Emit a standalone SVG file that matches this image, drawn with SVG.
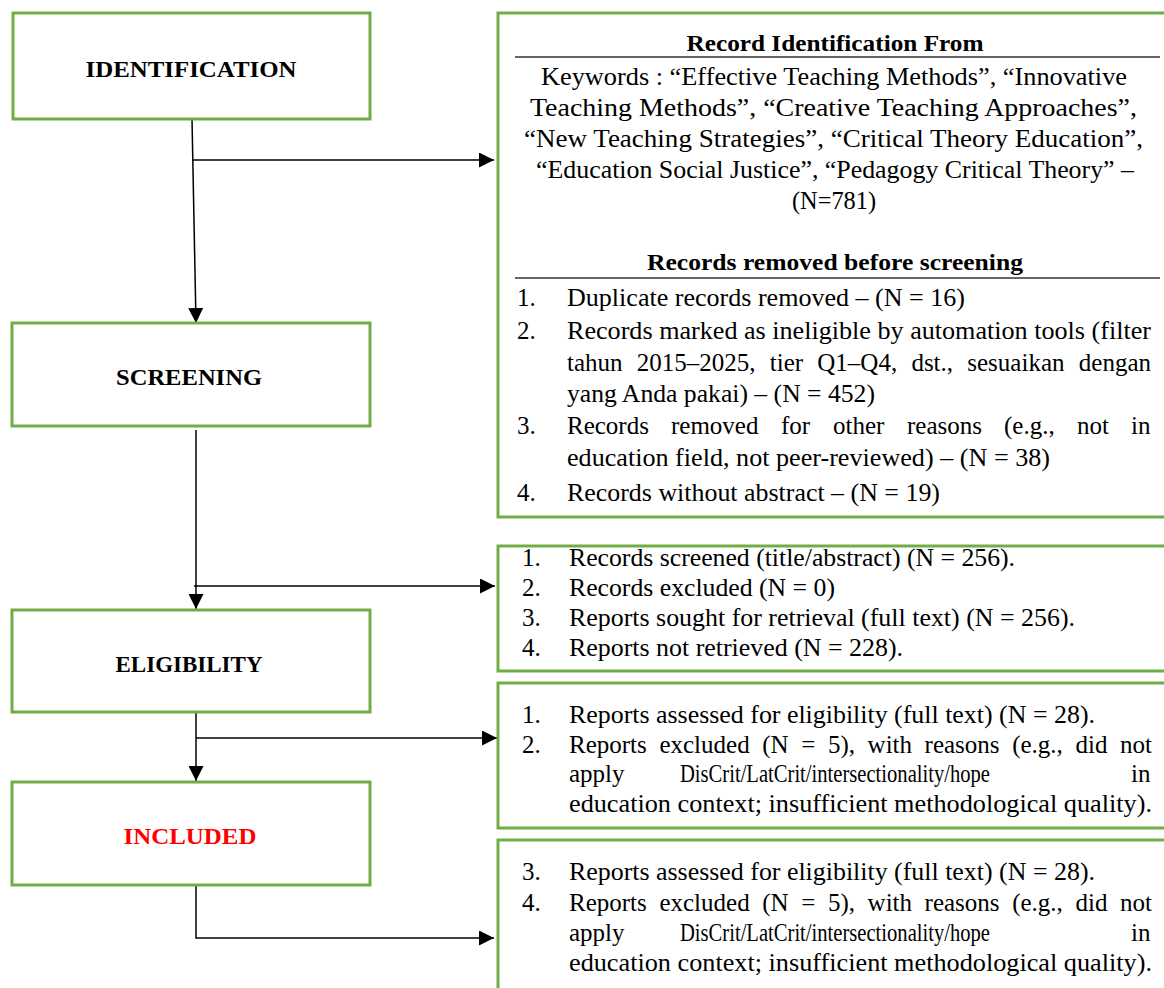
<svg xmlns="http://www.w3.org/2000/svg" width="1164" height="988" viewBox="0 0 1164 988">
<defs>
<style>
.box{fill:#fff;stroke:#70AD47;stroke-width:3}
.lbl{font-family:"Liberation Serif",serif;font-weight:bold;font-size:24px;fill:#000;text-anchor:middle}
.t{font-family:"Liberation Serif",serif;font-size:25px;fill:#000}
.h{font-family:"Liberation Serif",serif;font-weight:bold;font-size:23px;fill:#000;text-anchor:middle}
.c{font-family:"Liberation Serif",serif;font-size:25px;fill:#000;text-anchor:middle}
.conn{stroke:#000;stroke-width:1.5;fill:none}
.sep{stroke:#333;stroke-width:1.5}
</style>
<marker id="arrL" viewBox="0 0 10 10" refX="10" refY="5" markerWidth="15" markerHeight="15" markerUnits="userSpaceOnUse" orient="auto">
<path d="M0,0 L10,5 L0,10 z" fill="#000"/>
</marker>
</defs>
<rect width="1164" height="988" fill="#fff"/>

<g id="connectors">
<line class="conn" x1="192" y1="119" x2="196" y2="323" marker-end="url(#arrL)"/>
<line class="conn" x1="193" y1="160" x2="494" y2="160" marker-end="url(#arrL)"/>
<line class="conn" x1="196" y1="430" x2="196" y2="609" marker-end="url(#arrL)"/>
<line class="conn" x1="194" y1="586" x2="495" y2="586" marker-end="url(#arrL)"/>
<line class="conn" x1="196" y1="712" x2="196" y2="781" marker-end="url(#arrL)"/>
<line class="conn" x1="196" y1="738" x2="497" y2="738" marker-end="url(#arrL)"/>
<polyline class="conn" points="196,885 196,938 494,938" marker-end="url(#arrL)"/>
</g>

<g id="identification">
<rect class="box" x="13" y="13" width="357" height="106"/>
<text class="lbl" x="191" y="77" textLength="211" lengthAdjust="spacingAndGlyphs">IDENTIFICATION</text>
</g>
<g id="screening">
<rect class="box" x="12" y="323" width="358" height="103"/>
<text class="lbl" x="189" y="385" textLength="146" lengthAdjust="spacingAndGlyphs">SCREENING</text>
</g>
<g id="eligibility">
<rect class="box" x="12" y="610" width="358" height="102"/>
<text class="lbl" x="189" y="672" textLength="147" lengthAdjust="spacingAndGlyphs">ELIGIBILITY</text>
</g>
<g id="included">
<rect class="box" x="12" y="782" width="358" height="103"/>
<text class="lbl" x="190" y="844" style="fill:#f00" textLength="133" lengthAdjust="spacingAndGlyphs">INCLUDED</text>
</g>

<g id="record-identification">
<rect class="box" x="498" y="13" width="680" height="504"/>
<text class="h" x="835" y="51" textLength="297" lengthAdjust="spacingAndGlyphs">Record Identification From</text>
<line class="sep" x1="515" y1="57" x2="1160" y2="57"/>
<text class="t" x="541" y="85" textLength="586" lengthAdjust="spacingAndGlyphs">Keywords : “Effective Teaching Methods”, “Innovative</text>
<text class="t" x="530" y="116" textLength="607" lengthAdjust="spacingAndGlyphs">Teaching Methods”, “Creative Teaching Approaches”,</text>
<text class="t" x="524" y="147" textLength="619" lengthAdjust="spacingAndGlyphs">“New Teaching Strategies”, “Critical Theory Education”,</text>
<text class="t" x="536" y="178" textLength="598" lengthAdjust="spacingAndGlyphs">“Education Social Justice”, “Pedagogy Critical Theory” –</text>
<text class="c" x="834" y="209" textLength="84" lengthAdjust="spacingAndGlyphs">(N=781)</text>
<text class="h" x="835" y="270" textLength="376" lengthAdjust="spacingAndGlyphs">Records removed before screening</text>
<line class="sep" x1="515" y1="278" x2="1160" y2="278"/>
<text class="t" x="517" y="306">1.</text>
<text class="t" x="567" y="306" textLength="398" lengthAdjust="spacingAndGlyphs">Duplicate records removed – (N = 16)</text>
<text class="t" x="517" y="339">2.</text>
<text class="t" x="567" y="339" textLength="584" lengthAdjust="spacingAndGlyphs">Records marked as ineligible by automation tools (filter</text>
<text class="t" y="371"><tspan x="567">tahun</tspan><tspan x="636.8">2015–2025,</tspan><tspan x="769.8">tier</tspan><tspan x="817.3">Q1–Q4,</tspan><tspan x="911.4">dst.,</tspan><tspan x="967.3">sesuaikan</tspan><tspan x="1078.8">dengan</tspan></text>
<text class="t" x="567" y="402" textLength="308" lengthAdjust="spacingAndGlyphs">yang Anda pakai) – (N = 452)</text>
<text class="t" x="517" y="434">3.</text>
<text class="t" y="434"><tspan x="567">Records</tspan><tspan x="671">removed</tspan><tspan x="781">for</tspan><tspan x="833">other</tspan><tspan x="907">reasons</tspan><tspan x="1004">(e.g.,</tspan><tspan x="1077">not</tspan><tspan x="1131">in</tspan></text>
<text class="t" x="567" y="466" textLength="483" lengthAdjust="spacingAndGlyphs">education field, not peer-reviewed) – (N = 38)</text>
<text class="t" x="517" y="501">4.</text>
<text class="t" x="567" y="501" textLength="373" lengthAdjust="spacingAndGlyphs">Records without abstract – (N = 19)</text>
</g>

<g id="screening-results">
<rect class="box" x="498" y="546" width="680" height="125"/>
<text class="t" x="522" y="566">1.</text>
<text class="t" x="569" y="566" textLength="446" lengthAdjust="spacingAndGlyphs">Records screened (title/abstract) (N = 256).</text>
<text class="t" x="522" y="596">2.</text>
<text class="t" x="569" y="596" textLength="266" lengthAdjust="spacingAndGlyphs">Records excluded (N = 0)</text>
<text class="t" x="522" y="626">3.</text>
<text class="t" x="569" y="626" textLength="506" lengthAdjust="spacingAndGlyphs">Reports sought for retrieval (full text) (N = 256).</text>
<text class="t" x="522" y="656">4.</text>
<text class="t" x="569" y="656" textLength="334" lengthAdjust="spacingAndGlyphs">Reports not retrieved (N = 228).</text>
</g>

<g id="eligibility-results">
<rect class="box" x="498" y="683" width="680" height="145"/>
<text class="t" x="522" y="723">1.</text>
<text class="t" x="569" y="723" textLength="526" lengthAdjust="spacingAndGlyphs">Reports assessed for eligibility (full text) (N = 28).</text>
<text class="t" x="522" y="753">2.</text>
<text class="t" y="753"><tspan x="569">Reports</tspan><tspan x="659.4">excluded</tspan><tspan x="762.2">(N</tspan><tspan x="801.2">=</tspan><tspan x="827.9">5),</tspan><tspan x="867.6">with</tspan><tspan x="924.6">reasons</tspan><tspan x="1012.2">(e.g.,</tspan><tspan x="1075.5">did</tspan><tspan x="1120.1">not</tspan></text>
<text class="t" y="782"><tspan x="569">apply</tspan><tspan x="680" textLength="310" lengthAdjust="spacingAndGlyphs">DisCrit/LatCrit/intersectionality/hope</tspan><tspan x="1131">in</tspan></text>
<text class="t" x="569" y="812" textLength="583" lengthAdjust="spacingAndGlyphs">education context; insufficient methodological quality).</text>
</g>

<g id="included-results">
<rect class="box" x="498" y="840" width="680" height="160"/>
<text class="t" x="522" y="880">3.</text>
<text class="t" x="569" y="880" textLength="526" lengthAdjust="spacingAndGlyphs">Reports assessed for eligibility (full text) (N = 28).</text>
<text class="t" x="522" y="911">4.</text>
<text class="t" y="911"><tspan x="569">Reports</tspan><tspan x="659.4">excluded</tspan><tspan x="762.2">(N</tspan><tspan x="801.2">=</tspan><tspan x="827.9">5),</tspan><tspan x="867.6">with</tspan><tspan x="924.6">reasons</tspan><tspan x="1012.2">(e.g.,</tspan><tspan x="1075.5">did</tspan><tspan x="1120.1">not</tspan></text>
<text class="t" y="941"><tspan x="569">apply</tspan><tspan x="680" textLength="310" lengthAdjust="spacingAndGlyphs">DisCrit/LatCrit/intersectionality/hope</tspan><tspan x="1131">in</tspan></text>
<text class="t" x="569" y="971" textLength="583" lengthAdjust="spacingAndGlyphs">education context; insufficient methodological quality).</text>
</g>
</svg>
